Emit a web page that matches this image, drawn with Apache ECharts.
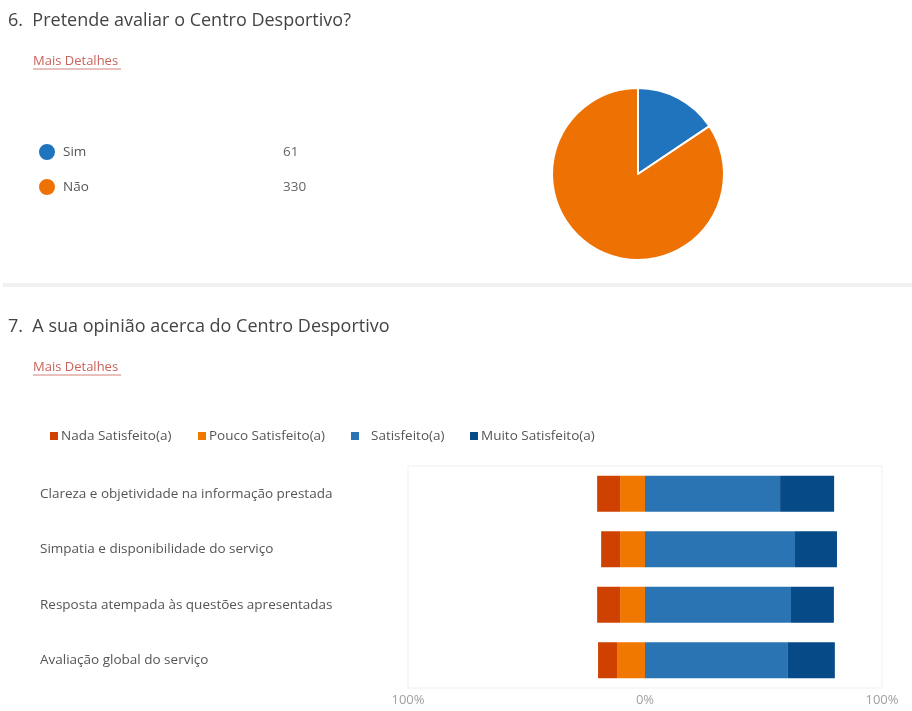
<!DOCTYPE html>
<html>
<head>
<meta charset="utf-8">
<script src="https://cdn.jsdelivr.net/npm/echarts@6/dist/echarts.min.js"></script>
<style>html,body{margin:0;padding:0;background:#fff;}#c{width:912px;height:711px;}</style>
</head>
<body>
<div id="c"></div>
<script>
const pieLabels = ['Sim', 'Não'];
const pieValues = [61, 330];
const categories = [
  'Clareza e objetividade na informação prestada',
  'Simpatia e disponibilidade do serviço',
  'Resposta atempada às questões apresentadas',
  'Avaliação global do serviço'
];
const seriesNames = ['Nada Satisfeito(a)', 'Pouco Satisfeito(a)', 'Satisfeito(a)', 'Muito Satisfeito(a)'];
const nada = [9.7, 8.0, 9.7, 8.0];
const pouco = [10.5, 10.5, 10.5, 11.8];
const satisfeito = [57.0, 63.3, 61.6, 60.3];
const muito = [22.8, 17.7, 18.1, 19.8];
const xTicks = [-100, 0, 100];

const FONT = '"Open Sans", "Noto Sans", sans-serif';
const chart = echarts.init(document.getElementById('c'));

const barLegendLeft = [45, 193, 346, 465];
const barLegendPad = [-2, -2, 7, -2];

const barLegends = seriesNames.map((n, i) => ({
  data: [n],
  left: barLegendLeft[i],
  top: 424,
  icon: 'rect',
  itemWidth: 8,
  itemHeight: 8,
  selectedMode: false,
  textStyle: { fontSize: 13.5, color: '#555', fontFamily: FONT, padding: [0, 0, 0, barLegendPad[i]] }
}));

const option = {
  backgroundColor: '#ffffff',
  animation: false,
  textStyle: { fontFamily: FONT },
  graphic: [
    { type: 'rect', shape: { x: 3, y: 283, width: 909, height: 4 }, style: { fill: '#f1f1f1' }, silent: true },
    { type: 'text', style: { x: 8, y: 21, text: '6.  Pretende avaliar o Centro Desportivo?', fontSize: 18, fontFamily: FONT, fill: '#444', textVerticalAlign: 'middle' } },
    { type: 'text', style: { x: 33, y: 61, text: 'Mais Detalhes', fontSize: 13, fontFamily: FONT, fill: '#c8645a', textVerticalAlign: 'middle' } },
    { type: 'line', shape: { x1: 33, y1: 69, x2: 121, y2: 69 }, style: { stroke: '#d08078', lineWidth: 1 } },
    { type: 'text', style: { x: 8, y: 327, text: '7.  A sua opinião acerca do Centro Desportivo', fontSize: 18, fontFamily: FONT, fill: '#444', textVerticalAlign: 'middle' } },
    { type: 'text', style: { x: 33, y: 367, text: 'Mais Detalhes', fontSize: 13, fontFamily: FONT, fill: '#c8645a', textVerticalAlign: 'middle' } },
    { type: 'line', shape: { x1: 33, y1: 375, x2: 121, y2: 375 }, style: { stroke: '#d08078', lineWidth: 1 } }
  ],
  legend: [
    {
      data: pieLabels,
      orient: 'vertical',
      left: 32,
      top: 137,
      icon: 'circle',
      itemWidth: 18,
      itemHeight: 18,
      itemGap: 15,
      selectedMode: false,
      formatter: function (name) {
        const v = pieValues[pieLabels.indexOf(name)];
        return '{n|' + name + '}{v|' + v + '}';
      },
      textStyle: {
        rich: {
          n: { width: 220, padding: [0, 0, 0, 2], fontSize: 13.5, color: '#555', fontFamily: FONT },
          v: { fontSize: 13.5, color: '#666', fontFamily: FONT }
        }
      }
    }
  ].concat(barLegends),
  grid: { left: 408, right: 30, top: 466, bottom: 23, show: true, borderColor: '#f0f0f0', borderWidth: 1 },
  xAxis: {
    type: 'value',
    min: -100,
    max: 100,
    interval: 100,
    axisLine: { show: false },
    axisTick: { show: false },
    splitLine: { show: false },
    axisLabel: {
      margin: 6,
      color: '#a0a0a0',
      fontSize: 13,
      fontFamily: FONT,
      customValues: xTicks,
      formatter: function (v) { return Math.abs(v) + '%'; }
    }
  },
  yAxis: {
    type: 'category',
    data: categories,
    inverse: true,
    axisLine: { show: false },
    axisTick: { show: false },
    splitLine: { show: false },
    axisLabel: { align: 'left', margin: 368, color: '#555', fontSize: 13.5, fontFamily: FONT }
  },
  series: [
    {
      type: 'pie',
      center: [638, 174],
      radius: 86,
      startAngle: 90,
      label: { show: false },
      labelLine: { show: false },
      silent: true,
      itemStyle: { borderColor: '#fff', borderWidth: 2 },
      data: pieLabels.map((n, i) => ({ name: n, value: pieValues[i], itemStyle: { color: i === 0 ? '#1f74bd' : '#ee7203' } }))
    },
    { name: seriesNames[1], type: 'bar', stack: 'a', barWidth: 36, data: pouco.map(v => -v), itemStyle: { color: '#f07800' } },
    { name: seriesNames[0], type: 'bar', stack: 'a', barWidth: 36, data: nada.map(v => -v), itemStyle: { color: '#cf4100' } },
    { name: seriesNames[2], type: 'bar', stack: 'a', barWidth: 36, data: satisfeito, itemStyle: { color: '#2b74b3' } },
    { name: seriesNames[3], type: 'bar', stack: 'a', barWidth: 36, data: muito, itemStyle: { color: '#064a88' } }
  ]
};
chart.setOption(option);
</script>
</body>
</html>
